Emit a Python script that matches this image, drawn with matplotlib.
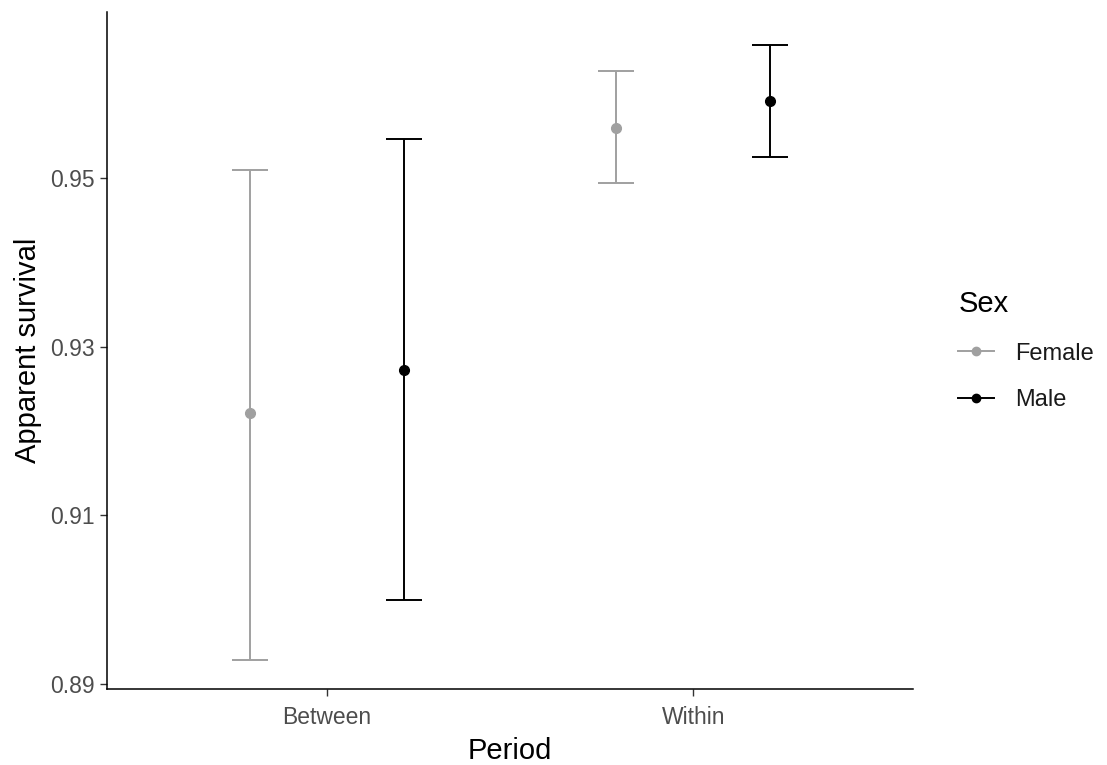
import numpy as np
import matplotlib
matplotlib.use("Agg")
import matplotlib.pyplot as plt
from matplotlib.lines import Line2D

plt.rcParams['font.family'] = ['Liberation Sans', 'DejaVu Sans']

periods = ['Between', 'Within']
sexes = ['Female', 'Male']
colors = {'Female': '#A0A0A0', 'Male': '#000000'}

# estimates and CI bounds per sex, in period order
est = {'Female': [0.9221, 0.9560], 'Male': [0.9272, 0.9591]}
lower = {'Female': [0.8928, 0.9494], 'Male': [0.9000, 0.9525]}
upper = {'Female': [0.9510, 0.9627], 'Male': [0.9546, 0.9658]}

fig = plt.figure(figsize=(11.07, 7.65), dpi=100)
ax = fig.add_axes([107/1107, 76/765, (913-107)/1107, (689-12)/765])

x = np.arange(1, len(periods) + 1)
dodge = {'Female': -0.21, 'Male': 0.21}
for s in sexes:
    e = np.array(est[s])
    yerr = [e - np.array(lower[s]), np.array(upper[s]) - e]
    ax.errorbar(x + dodge[s], e, yerr=yerr, fmt='o', color=colors[s],
                ms=7, elinewidth=1.4, capsize=13, capthick=1.4)

ax.set_xlim(0.4, 2.6)
ax.set_ylim(0.8894, 0.9697)
ax.set_xticks(x)
ax.set_xticklabels(periods)
ax.set_yticks([0.89, 0.91, 0.93, 0.95])
ax.set_yticklabels(['0.89', '0.91', '0.93', '0.95'])

for side in ['top', 'right']:
    ax.spines[side].set_visible(False)
for side in ['left', 'bottom']:
    ax.spines[side].set_linewidth(1.1)
ax.tick_params(length=5, width=1.0, color='#333333', labelsize=16.5,
               labelcolor='#4D4D4D', pad=4)
ax.tick_params(axis='x', pad=7)

ax.set_xlabel('Period', fontsize=21, labelpad=6)
ax.set_ylabel('Apparent survival', fontsize=21, labelpad=6)

handles = [Line2D([0], [0], color=colors[s], marker='o', ms=6, lw=1.4) for s in sexes]
leg = ax.legend(handles, sexes, title='Sex', frameon=False, loc='center left',
                bbox_to_anchor=(1.03, 0.5), fontsize=17, title_fontsize=21,
                handlelength=1.5, labelspacing=1.05, handletextpad=0.9)
leg._legend_box.align = 'left'
for t in leg.get_texts():
    t.set_color('#1A1A1A')

fig.savefig('out.png', dpi=100)
